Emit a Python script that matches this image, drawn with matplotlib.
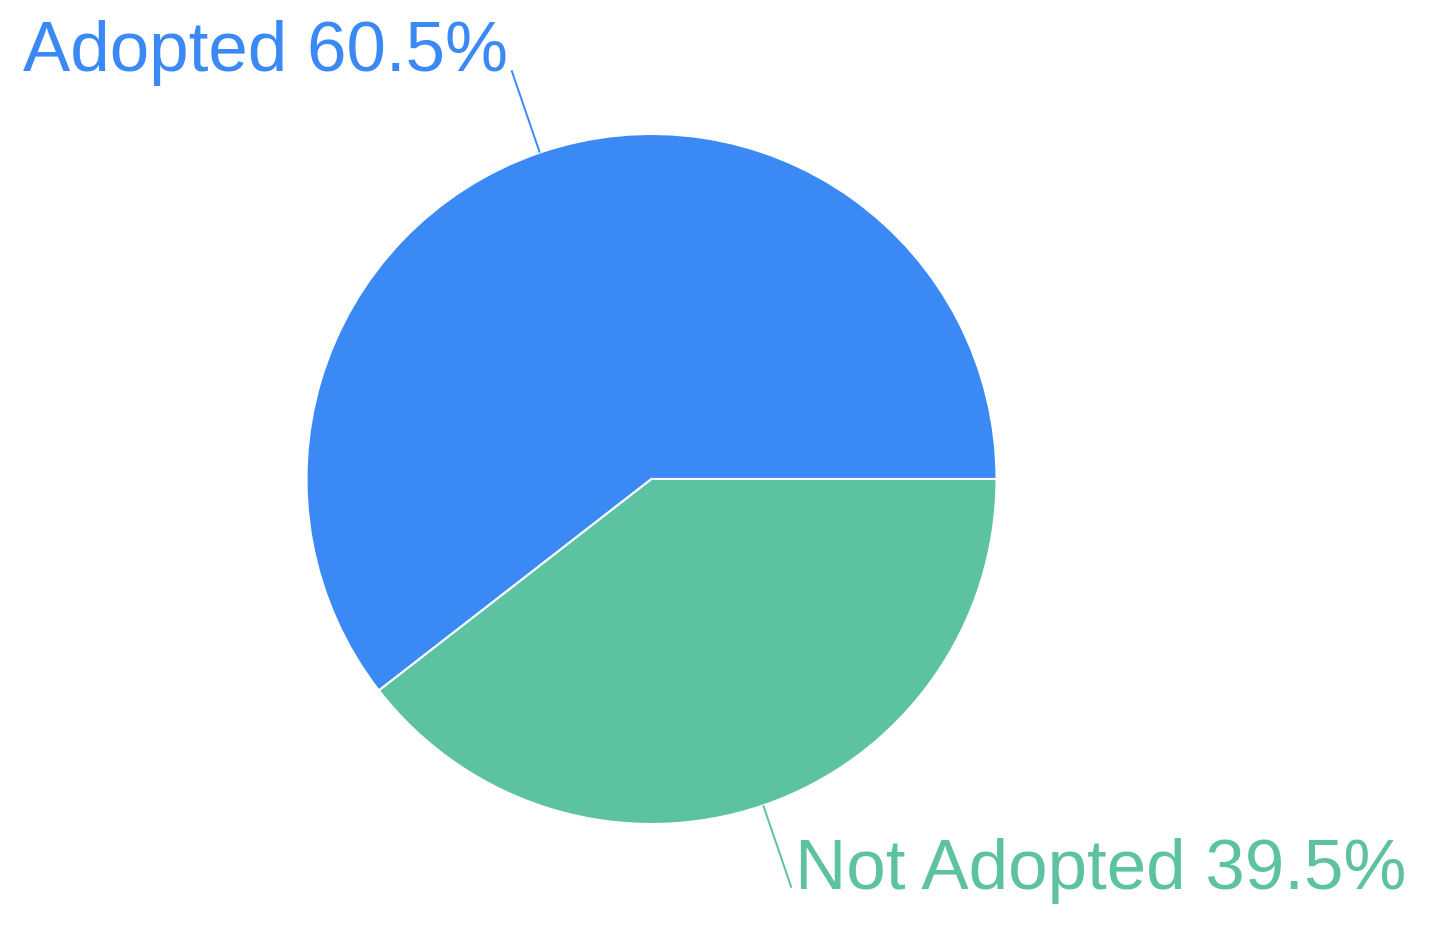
import numpy as np
from matplotlib import pyplot as plt

# data
labels = ['Adopted', 'Not Adopted']
shares = [60.5, 39.5]
colors = ['#3b89f5', '#5dc2a1']

W, H = 1430, 929
plt.rcParams['font.family'] = ['Liberation Sans', 'DejaVu Sans']

fig = plt.figure(figsize=(W / 100, H / 100), dpi=100)
ax = fig.add_axes([0, 0, 1, 1])

cx, cy, r = 651.5, H - 480, 345
wedges, _ = ax.pie(shares, colors=colors, startangle=0, counterclock=True,
                   center=(cx, cy), radius=r, frame=True,
                   wedgeprops=dict(edgecolor='white', linewidth=1.5))
ax.set_xlim(0, W)
ax.set_ylim(0, H)
ax.set_aspect('equal')
ax.axis('off')

"""leader lines going straight out from each wedge's middle, label at the end"""
for w, lab, val, col in zip(wedges, labels, shares, colors):
    mid = np.deg2rad((w.theta1 + w.theta2) / 2)
    dx, dy = np.cos(mid), np.sin(mid)
    x0, y0 = cx + r * dx, cy + r * dy
    x1, y1 = cx + 432 * dx, cy + 432 * dy
    ax.plot([x0, x1], [y0, y1], color=col, lw=1.4, solid_capstyle='butt')
    ha = 'left' if dx > 0 else 'right'
    off = 4 if dx > 0 else -4
    ax.text(x1 + off, y1, f'{lab} {val}%', color=col, fontsize=51,
            ha=ha, va='baseline')

fig.savefig('out.png', dpi=100, facecolor='white')
